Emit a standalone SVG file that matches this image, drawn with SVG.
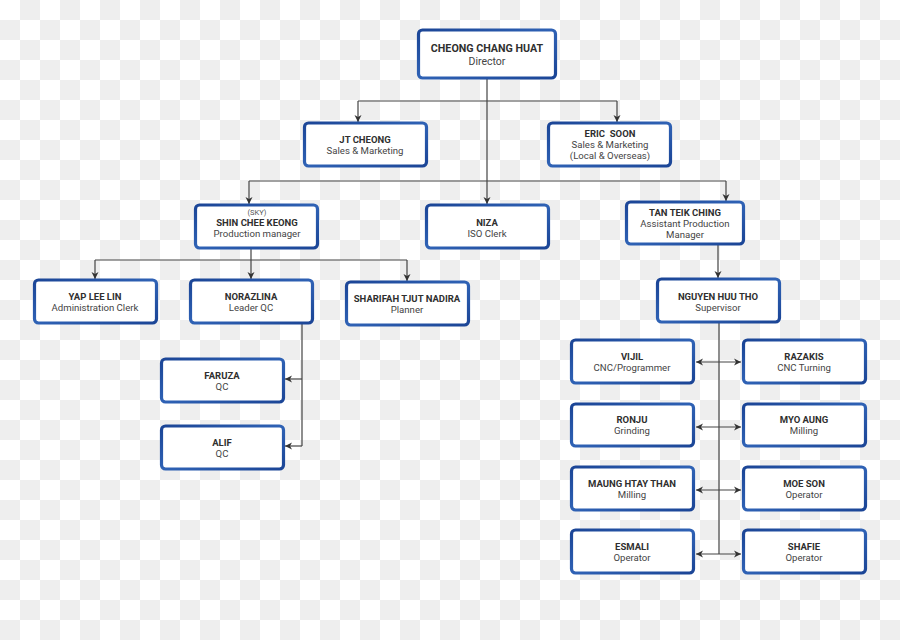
<svg xmlns="http://www.w3.org/2000/svg" width="900" height="640" viewBox="0 0 900 640">
<defs>
<pattern id="chk" x="0" y="0" width="40" height="40" patternUnits="userSpaceOnUse">
<rect width="40" height="40" fill="#ffffff"/>
<rect x="20" y="0" width="20" height="20" fill="#eeeeee"/>
<rect x="0" y="20" width="20" height="20" fill="#eeeeee"/>
</pattern>
<linearGradient id="bg" x1="0" y1="0" x2="1" y2="1">
<stop offset="0" stop-color="#1b4596"/>
<stop offset="0.5" stop-color="#2f62b5"/>
<stop offset="1" stop-color="#1b4596"/>
</linearGradient>
<marker id="ah" markerWidth="8" markerHeight="8" refX="7" refY="4" orient="auto-start-reverse" markerUnits="userSpaceOnUse">
<path d="M0,0.5 L7,4 L0,7.5 L2,4 Z" fill="#333"/>
</marker>
<style>
.box{fill:#ffffff;stroke:url(#bg);stroke-width:3.2}
.n{font-family:Roboto,"Liberation Sans",sans-serif;font-weight:bold;font-size:9.5px;fill:#2f2f2f;text-anchor:middle}
.r{font-family:Roboto,"Liberation Sans",sans-serif;font-size:9.6px;fill:#444;text-anchor:middle}
.s{font-family:Roboto,"Liberation Sans",sans-serif;font-size:7.5px;fill:#555;text-anchor:middle}
.big{font-size:10.7px}
.bigr{font-size:10.5px}
.c{fill:none;stroke:#444;stroke-width:1.2}
</style>
</defs>
<rect width="900" height="640" fill="url(#chk)"/>

<g id="connectors">
<path class="c" d="M487,79 V101 M358,101 H617"/>
<path class="c" d="M358,101 V122" marker-end="url(#ah)"/>
<path class="c" d="M617,101 V122" marker-end="url(#ah)"/>
<path class="c" d="M487,101 V204" marker-end="url(#ah)"/>
<path class="c" d="M249,181 H726"/>
<path class="c" d="M249,181 V204" marker-end="url(#ah)"/>
<path class="c" d="M726,181 V201" marker-end="url(#ah)"/>
<path class="c" d="M251,249 V260 M95,260 H407"/>
<path class="c" d="M95,260 V279" marker-end="url(#ah)"/>
<path class="c" d="M251,260 V279" marker-end="url(#ah)"/>
<path class="c" d="M407,260 V281" marker-end="url(#ah)"/>
<path class="c" d="M302,324 V446"/>
<path class="c" d="M302,379 H285" marker-end="url(#ah)"/>
<path class="c" d="M302,446 H285" marker-end="url(#ah)"/>
<path class="c" d="M718,245 V278" marker-end="url(#ah)"/>
<path class="c" d="M719,323 V554"/>
<path class="c" d="M696,362 H741" marker-start="url(#ah)" marker-end="url(#ah)"/>
<path class="c" d="M696,427 H741" marker-start="url(#ah)" marker-end="url(#ah)"/>
<path class="c" d="M696,490 H741" marker-start="url(#ah)" marker-end="url(#ah)"/>
<path class="c" d="M696,554 H741" marker-start="url(#ah)" marker-end="url(#ah)"/>
</g>

<g id="director"><rect class="box" x="418.5" y="30" width="137" height="48" rx="4"/>
<text class="n big" x="487" y="52">CHEONG CHANG HUAT</text><text class="r bigr" x="487" y="65">Director</text></g>

<g id="jt-cheong"><rect class="box" x="304.5" y="123" width="122" height="43" rx="4"/>
<text class="n" x="365" y="143">JT CHEONG</text><text class="r" x="365" y="154">Sales &amp; Marketing</text></g>

<g id="eric-soon"><rect class="box" x="548.5" y="123" width="122" height="43" rx="4"/>
<text class="n" x="610" y="137" xml:space="preserve">ERIC  SOON</text><text class="r" x="610" y="148">Sales &amp; Marketing</text><text class="r" x="610" y="159">(Local &amp; Overseas)</text></g>

<g id="shin-chee-keong"><rect class="box" x="195.5" y="205" width="122" height="43" rx="4"/>
<text class="s" x="257" y="215">(SKY)</text><text class="n" x="257" y="226">SHIN CHEE KEONG</text><text class="r" x="257" y="237">Production manager</text></g>

<g id="niza"><rect class="box" x="426.5" y="205" width="122" height="43" rx="4"/>
<text class="n" x="487" y="226">NIZA</text><text class="r" x="487" y="237">ISO Clerk</text></g>

<g id="tan-teik-ching"><rect class="box" x="626.5" y="202" width="117" height="42" rx="4"/>
<text class="n" x="685" y="216">TAN TEIK CHING</text><text class="r" x="685" y="227">Assistant Production</text><text class="r" x="685" y="238">Manager</text></g>

<g id="yap-lee-lin"><rect class="box" x="34.5" y="280" width="122" height="43" rx="4"/>
<text class="n" x="95" y="300">YAP LEE LIN</text><text class="r" x="95" y="311">Administration Clerk</text></g>

<g id="norazlina"><rect class="box" x="190.5" y="280" width="122" height="43" rx="4"/>
<text class="n" x="251" y="300">NORAZLINA</text><text class="r" x="251" y="311">Leader QC</text></g>

<g id="sharifah"><rect class="box" x="346.5" y="282" width="122" height="43" rx="4"/>
<text class="n" x="407" y="302">SHARIFAH TJUT NADIRA</text><text class="r" x="407" y="313">Planner</text></g>

<g id="nguyen-huu-tho"><rect class="box" x="657.5" y="279" width="122" height="43" rx="4"/>
<text class="n" x="718" y="300">NGUYEN HUU THO</text><text class="r" x="718" y="311">Supervisor</text></g>

<g id="faruza"><rect class="box" x="161.5" y="359" width="122" height="43" rx="4"/>
<text class="n" x="222" y="379">FARUZA</text><text class="r" x="222" y="390">QC</text></g>

<g id="alif"><rect class="box" x="161.5" y="426" width="122" height="43" rx="4"/>
<text class="n" x="222" y="446">ALIF</text><text class="r" x="222" y="457">QC</text></g>

<g id="vijil"><rect class="box" x="571.5" y="340" width="122" height="43" rx="4"/>
<text class="n" x="632" y="360">VIJIL</text><text class="r" x="632" y="371">CNC/Programmer</text></g>

<g id="razakis"><rect class="box" x="743.5" y="340" width="122" height="43" rx="4"/>
<text class="n" x="804" y="360">RAZAKIS</text><text class="r" x="804" y="371">CNC Turning</text></g>

<g id="ronju"><rect class="box" x="571.5" y="404" width="122" height="42" rx="4"/>
<text class="n" x="632" y="423">RONJU</text><text class="r" x="632" y="434">Grinding</text></g>

<g id="myo-aung"><rect class="box" x="743.5" y="404" width="122" height="42" rx="4"/>
<text class="n" x="804" y="423">MYO AUNG</text><text class="r" x="804" y="434">Milling</text></g>

<g id="maung-htay-than"><rect class="box" x="571.5" y="467" width="122" height="43" rx="4"/>
<text class="n" x="632" y="487">MAUNG HTAY THAN</text><text class="r" x="632" y="498">Milling</text></g>

<g id="moe-son"><rect class="box" x="743.5" y="467" width="122" height="43" rx="4"/>
<text class="n" x="804" y="487">MOE SON</text><text class="r" x="804" y="498">Operator</text></g>

<g id="esmali"><rect class="box" x="571.5" y="530" width="122" height="43" rx="4"/>
<text class="n" x="632" y="550">ESMALI</text><text class="r" x="632" y="561">Operator</text></g>

<g id="shafie"><rect class="box" x="743.5" y="530" width="122" height="43" rx="4"/>
<text class="n" x="804" y="550">SHAFIE</text><text class="r" x="804" y="561">Operator</text></g>
</svg>
